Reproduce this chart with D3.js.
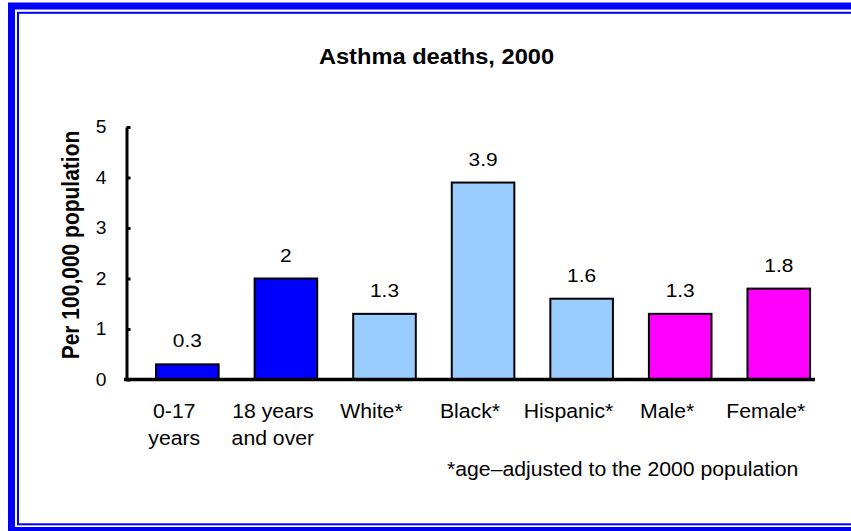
<!DOCTYPE html>
<html>
<head>
<meta charset="utf-8">
<script src="https://cdn.jsdelivr.net/npm/d3@7"></script>
<style>
  html, body { margin: 0; padding: 0; background: #fff; }
  svg { display: block; }
  text { font-family: Arial, "Liberation Sans", Helvetica, sans-serif; fill: #000; }
</style>
</head>
<body>
<svg id="chart" width="851" height="531"></svg>
<script>
// Asthma death rates per 100,000 population, 2000
const categories = ["0-17 years", "18 years and over", "White*", "Black*", "Hispanic*", "Male*", "Female*"];
const categoryLines = [["0-17", "years"], ["18 years", "and over"], ["White*"], ["Black*"], ["Hispanic*"], ["Male*"], ["Female*"]];
const rates = [0.3, 2, 1.3, 3.9, 1.6, 1.3, 1.8];
const groups = ["age", "age", "race", "race", "race", "sex", "sex"];
const yTicks = [0, 1, 2, 3, 4, 5];

const groupColor = { age: "#0000FF", race: "#99CCFF", sex: "#FF00FF" };
const SX = 1.1; // horizontal text stretch

const svg = d3.select("#chart");

// Double blue frame
svg.append("rect")
  .attr("x", 11.5).attr("y", 6).attr("width", 900).attr("height", 524.5)
  .attr("fill", "none").attr("stroke", "#0000FF").attr("stroke-width", 7);
svg.append("rect")
  .attr("x", 18).attr("y", 12.8).attr("width", 900).attr("height", 511.5)
  .attr("fill", "none").attr("stroke", "#0000FF").attr("stroke-width", 2);

const x = d3.scaleBand().domain(categories).range([125, 815]).padding(0);
const y = d3.scaleLinear().domain([0, 5]).range([379.5, 127]);

function stretched(sel, px, py) {
  return sel.attr("transform", `translate(${px},${py}) scale(${SX},1)`);
}

// Title
stretched(svg.append("text"), 436.5, 64)
  .attr("text-anchor", "middle")
  .style("font-size", "21.5px").style("font-weight", "bold")
  .text("Asthma deaths, 2000");

// Y axis title
svg.append("text")
  .attr("transform", `translate(79,245) scale(${SX},1) rotate(-90)`)
  .attr("text-anchor", "middle")
  .style("font-size", "21px").style("font-weight", "bold")
  .text("Per 100,000 population");

// Bars
const barOffset = x.bandwidth() * 0.315;
const barWidth = x.bandwidth() * 0.635;
svg.append("g").selectAll("rect")
  .data(categories)
  .join("rect")
  .attr("x", (d) => x(d) + barOffset)
  .attr("y", (d, i) => y(rates[i]))
  .attr("width", barWidth)
  .attr("height", (d, i) => y(0) - y(rates[i]))
  .attr("fill", (d, i) => groupColor[groups[i]])
  .attr("stroke", "#000").attr("stroke-width", 2);

// Value labels
svg.append("g").selectAll("text")
  .data(categories)
  .join("text")
  .attr("transform", (d, i) => `translate(${x(d) + barOffset + barWidth / 2},${y(rates[i]) - 17}) scale(${SX},1)`)
  .attr("text-anchor", "middle")
  .style("font-size", "19px")
  .text((d, i) => String(rates[i]));

// Y axis
const yAxis = svg.append("g")
  .attr("transform", "translate(126.5,0)")
  .call(d3.axisLeft(y).tickValues(yTicks).tickFormat(d3.format("d"))
    .tickSizeInner(-4).tickSizeOuter(0).tickPadding(20));
yAxis.select(".domain").attr("stroke", "#000").attr("stroke-width", 3);
yAxis.selectAll(".tick line").attr("stroke", "#000").attr("stroke-width", 3);
yAxis.selectAll(".tick text")
  .attr("x", -20 / SX)
  .attr("transform", `scale(${SX},1)`)
  .style("font-size", "17.5px").style("font-family", "Arial, 'Liberation Sans', sans-serif")
  .attr("fill", "#000");

// X axis baseline
svg.append("line")
  .attr("x1", x.range()[0] - 1).attr("x2", x.range()[1])
  .attr("y1", y(0)).attr("y2", y(0))
  .attr("stroke", "#000").attr("stroke-width", 3.5);

// Category labels
const catG = svg.append("g").selectAll("g")
  .data(categories)
  .join("g")
  .attr("transform", (d) => `translate(${x(d) + x.bandwidth() / 2},0)`);
catG.selectAll("text")
  .data((d, i) => categoryLines[i])
  .join("text")
  .attr("transform", (t, j) => `translate(0,${418 + j * 27}) scale(${SX},1)`)
  .attr("text-anchor", "middle")
  .style("font-size", "19.3px")
  .text((t) => t);

// Footnote
stretched(svg.append("text"), 447, 476)
  .attr("text-anchor", "start")
  .style("font-size", "19.3px")
  .text("*age\u2013adjusted to the 2000 population");
</script>
</body>
</html>
